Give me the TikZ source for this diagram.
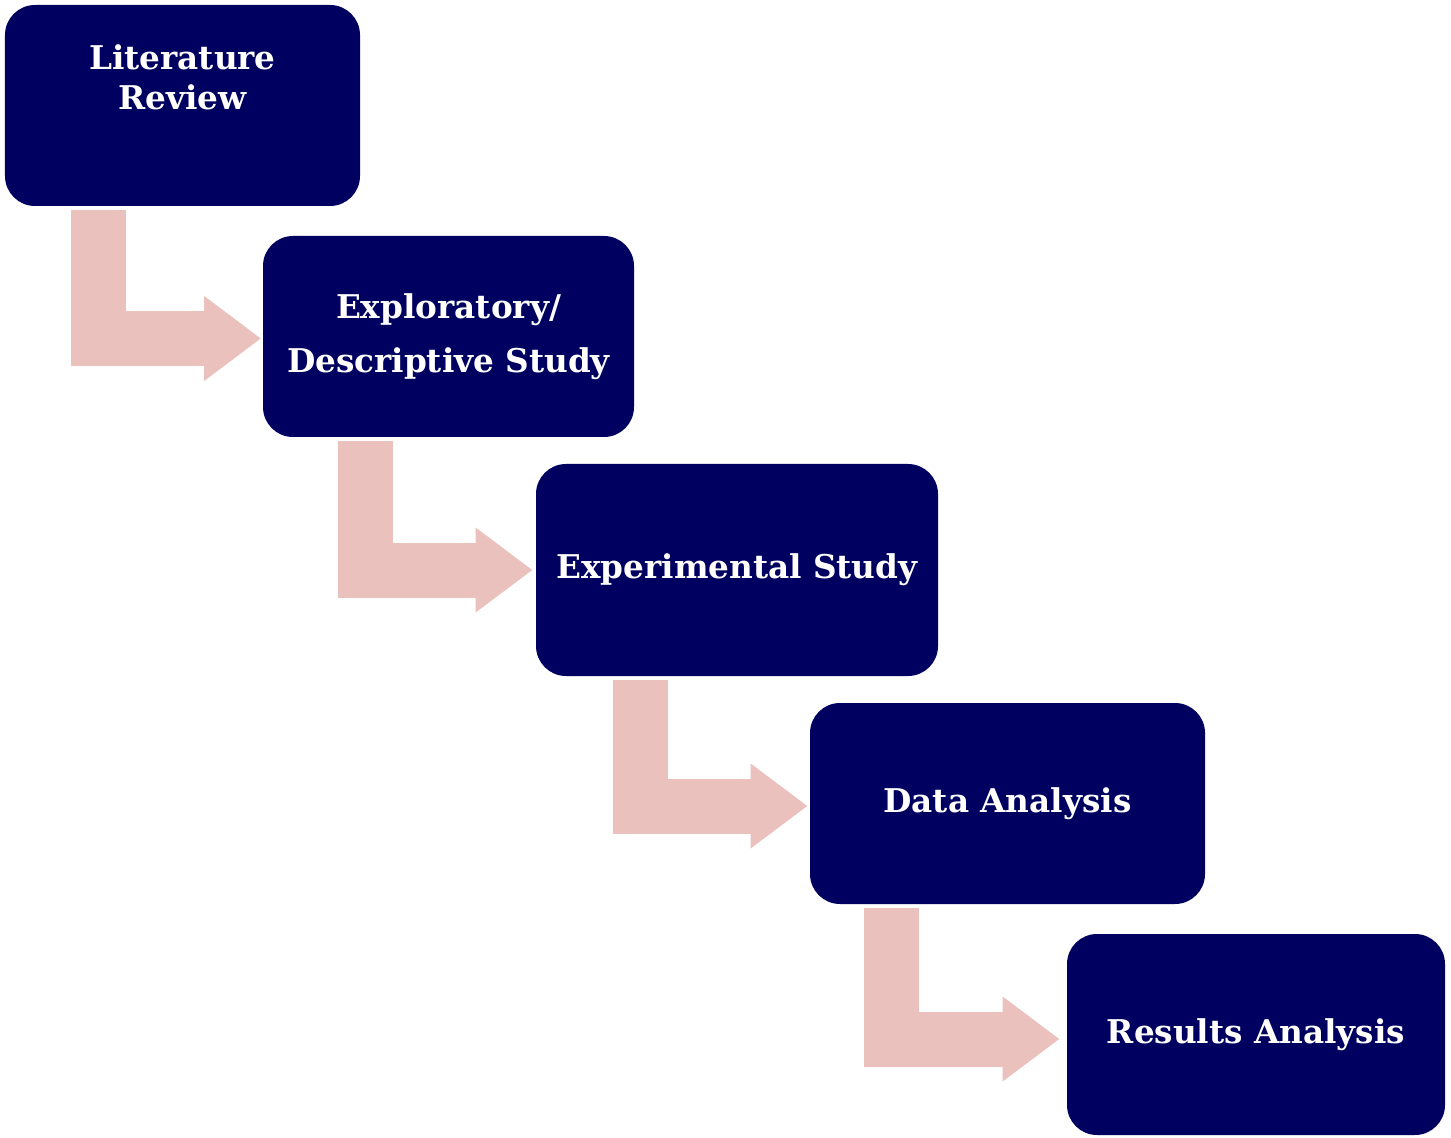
\documentclass[tikz,border=0pt]{standalone}
\usepackage{fontspec}
\setmainfont{DejaVu Serif}
\usepackage{tikz}
\usetikzlibrary{arrows.meta, positioning}
\definecolor{navy}{RGB}{0,0,96}
\definecolor{blush}{RGB}{234,193,189}

\begin{document}
\begin{tikzpicture}[
    stage/.style={fill=navy, text=white, rounded corners=0.6cm, minimum height=4.02cm, align=center, font=\bfseries\fontsize{18.6}{22.4}\selectfont},
    flow/.style={draw=blush, line width=1.1cm, -{Triangle[length=1.14cm, width=1.62cm]}}
]
\useasboundingbox (0,0) rectangle (29.02,-22.76);
% Stages
\node[stage, minimum width=7.1cm, text depth=1.13cm] (lit) at (3.65,-2.11) {Literature\\Review};
\node[stage, minimum width=7.42cm] (expl) at (8.97,-6.73) {Exploratory/\\[8.6pt]Descriptive Study};
\node[stage, minimum width=8.04cm, minimum height=4.24cm] (expt) at (14.74,-11.40) {Experimental Study};
\node[stage, minimum width=7.9cm] (data) at (20.15,-16.07) {Data Analysis};
\node[stage, minimum width=7.56cm] (res) at (25.12,-20.69) {Results Analysis};
% Arrows
\draw[flow] ([xshift=1.87cm, yshift=-0.08cm]lit.south west) |- ([xshift=-0.03cm, yshift=-0.04cm]expl.west);
\draw[flow] ([xshift=2.05cm, yshift=-0.08cm]expl.south west) |- ([xshift=-0.06cm]expt.west);
\draw[flow] ([xshift=2.09cm, yshift=-0.08cm]expt.south west) |- ([xshift=-0.04cm, yshift=-0.05cm]data.west);
\draw[flow] ([xshift=1.64cm, yshift=-0.08cm]data.south west) |- ([xshift=-0.14cm, yshift=-0.09cm]res.west);
\end{tikzpicture}
\end{document}
